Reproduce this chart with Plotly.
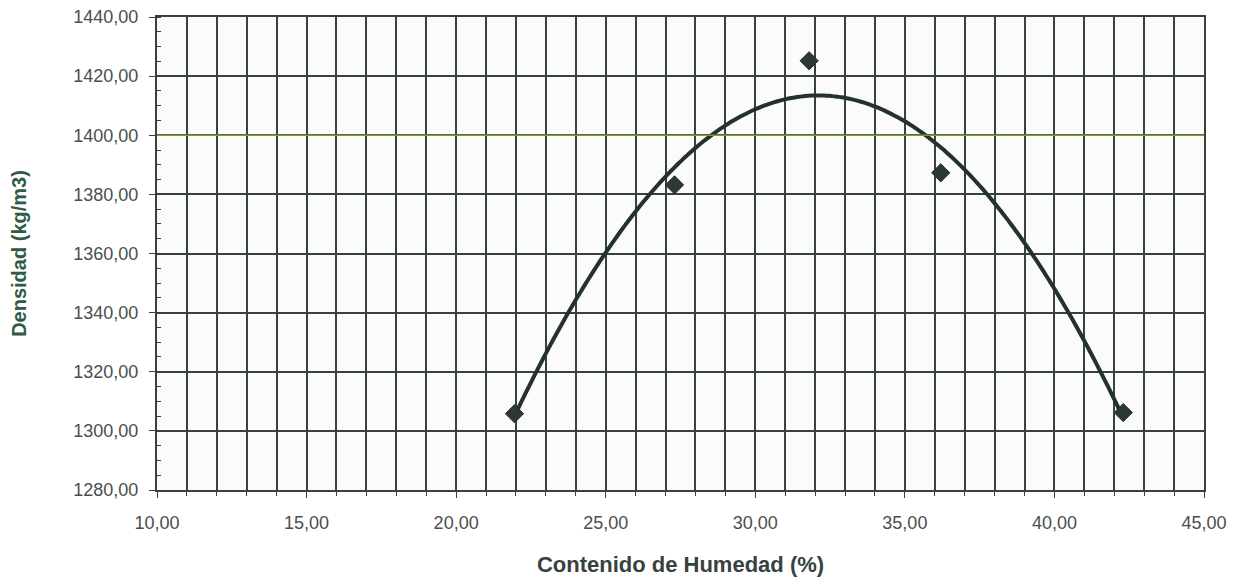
import numpy as np
import plotly.graph_objects as go

# Data
humedad = [21.95, 27.30, 31.80, 36.20, 42.30]          # Contenido de Humedad (%)
densidad = [1305.8, 1383.2, 1425.2, 1387.3, 1306.2]     # Densidad (kg/m3)

x_ticks = [10, 15, 20, 25, 30, 35, 40, 45]
y_ticks = [1280, 1300, 1320, 1340, 1360, 1380, 1400, 1420, 1440]

# Polynomial (2nd order) trendline fitted to the data
coef = np.polyfit(humedad, densidad, 2)
xs = np.linspace(min(humedad), max(humedad), 200)
ys = np.polyval(coef, xs)

GRID = "#37423f"
fig = go.Figure()

fig.add_trace(go.Scatter(
    x=xs, y=ys, mode="lines",
    line=dict(color="#24322e", width=4, shape="spline"),
    hoverinfo="skip", showlegend=False,
))
fig.add_trace(go.Scatter(
    x=humedad, y=densidad, mode="markers",
    marker=dict(symbol="diamond", size=14, color="#2b3835",
                line=dict(color="#1f2a27", width=1)),
    showlegend=False,
))

# scan artefact: greenish line on the 1400 gridline
fig.add_shape(type="line", xref="paper", x0=0, x1=1, yref="y", y0=1400, y1=1400,
              line=dict(color="#7f9a3a", width=1.5), layer="above")

# page body has an 8px margin, so the figure is sized/offset to compensate
fig.update_layout(
    width=1233, height=571,
    margin=dict(l=149, r=37, t=9, b=89),
    paper_bgcolor="white", plot_bgcolor="#fbfbfa",
    separators=",.",
    font=dict(family="Liberation Sans, Arial, sans-serif", color="#4a4f4d"),
    xaxis=dict(
        range=[10, 45], tickvals=x_ticks, tickformat=".2f",
        automargin=False, ticklabeloverflow="allow",
        showgrid=True, gridcolor=GRID, gridwidth=1.6,
        minor=dict(dtick=1, showgrid=True, gridcolor=GRID, gridwidth=1.6,
                   ticks="outside", ticklen=4, tickcolor=GRID),
        ticks="outside", ticklen=6, tickcolor=GRID,
        showline=True, linecolor=GRID, linewidth=2, mirror=True,
        zeroline=False,
        tickfont=dict(size=18, color="#4a4f4d"),
        ticklabelstandoff=9,
        title=dict(text="<b>Contenido de Humedad (%)</b>",
                   font=dict(size=22, color="#36423e"), standoff=25),
    ),
    yaxis=dict(
        range=[1280, 1440], tickvals=y_ticks, tickformat=".2f",
        automargin=False, ticklabeloverflow="allow",
        showgrid=True, gridcolor=GRID, gridwidth=1.6,
        ticks="outside", ticklen=6, tickcolor=GRID,
        minor=dict(dtick=5, ticks="inside", ticklen=4, tickcolor=GRID, showgrid=False),
        showline=True, linecolor=GRID, linewidth=2, mirror=True,
        zeroline=False,
        tickfont=dict(size=18, color="#4a4f4d"),
        ticklabelstandoff=7,
        title=dict(text="<b>Densidad (kg/m3)</b>",
                   font=dict(size=20, color="#2f5a47"), standoff=41),
    ),
)

fig.write_html("out.html")
